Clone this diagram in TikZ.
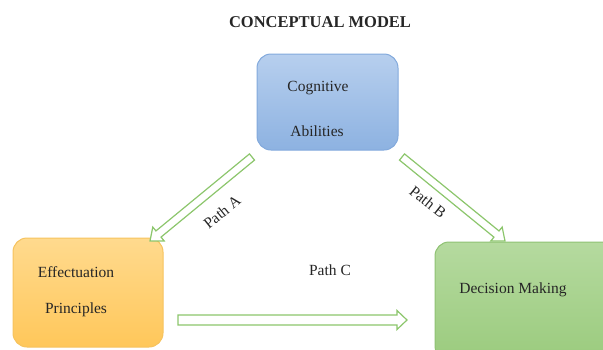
\documentclass[tikz,border=0pt]{standalone}
\usepackage{fontspec}
\setmainfont{Liberation Serif}
\usetikzlibrary{calc}
\definecolor{txt}{HTML}{262626}
\definecolor{arrowgreen}{HTML}{8CC66C}
\definecolor{bluetop}{HTML}{B7CFEE}
\definecolor{bluebot}{HTML}{8DB2E1}
\definecolor{blueline}{HTML}{82A9DC}
\definecolor{orangetop}{HTML}{FFDA8E}
\definecolor{orangebot}{HTML}{FFC75A}
\definecolor{orangeline}{HTML}{F6C35E}
\definecolor{greentop}{HTML}{B5DA9F}
\definecolor{greenbot}{HTML}{9BCB7E}
\definecolor{greenline}{HTML}{8FC273}
\newcommand{\blockarrow}[5]{% start, end, shaft half width, head half width, head length
  \coordinate (h) at ($(#2)!#5!(#1)$);
  \draw[arrowline] ($(#1)!#3!90:(#2)$) -- ($(h)!#3!-90:(#1)$) -- ($(h)!#4!-90:(#1)$)
    -- (#2) -- ($(h)!#4!90:(#1)$) -- ($(h)!#3!90:(#1)$) -- ($(#1)!#3!-90:(#2)$) -- cycle;
}
\tikzset{
  box/.style={rounded corners=14pt, line width=1pt, inner sep=0pt},
  label/.style={text=txt, font=\fontsize{15.5}{18}\selectfont, inner sep=0pt},
  arrowline/.style={draw=arrowgreen, fill=white, line width=1.2pt, line join=miter},
}
\begin{document}
\begin{tikzpicture}[x=1pt,y=-1pt]
\useasboundingbox (0,0) rectangle (603,349);
\clip (0,0) rectangle (603,349);
% title
\node[text=txt, font=\fontsize{16.5}{20}\selectfont\bfseries, inner sep=0pt] (title) at (320,22) {CONCEPTUAL MODEL};
% boxes
\node[box, draw=blueline, top color=bluetop, bottom color=bluebot, minimum width=141pt, minimum height=96pt] (cog) at (327.5,102) {};
\node[box, draw=orangeline, top color=orangetop, bottom color=orangebot, minimum width=150pt, minimum height=109pt] (eff) at (88,292.5) {};
\node[box, draw=greenline, top color=greentop, bottom color=greenbot, minimum width=185pt, minimum height=118pt] (dec) at (527.5,301) {};
% box texts
\node[label] (cog1) at (318,88) {Cognitive};
\node[label] (cog2) at (317,131) {Abilities};
\node[label] (eff1) at (76,272) {Effectuation};
\node[label] (eff2) at (76,310) {Principles};
\node[label] (dec1) at (513,290) {Decision Making};
% arrow end points
\coordinate (aS) at (252,157);
\coordinate (aE) at (150,241);
\coordinate (bS) at (402,157);
\coordinate (bE) at (505,241);
\coordinate (cS) at (178,320);
\coordinate (cE) at (407,320);
\blockarrow{aS}{aE}{4pt}{9pt}{11pt}
\blockarrow{bS}{bE}{4pt}{9pt}{11pt}
\blockarrow{cS}{cE}{5pt}{9.5pt}{10pt}
% path labels
\node[label, rotate=39] (pa) at (222,212) {Path A};
\node[label, rotate=-38.5] (pb) at (428,202) {Path B};
\node[label] (pc) at (330,270) {Path C};
\end{tikzpicture}
\end{document}
